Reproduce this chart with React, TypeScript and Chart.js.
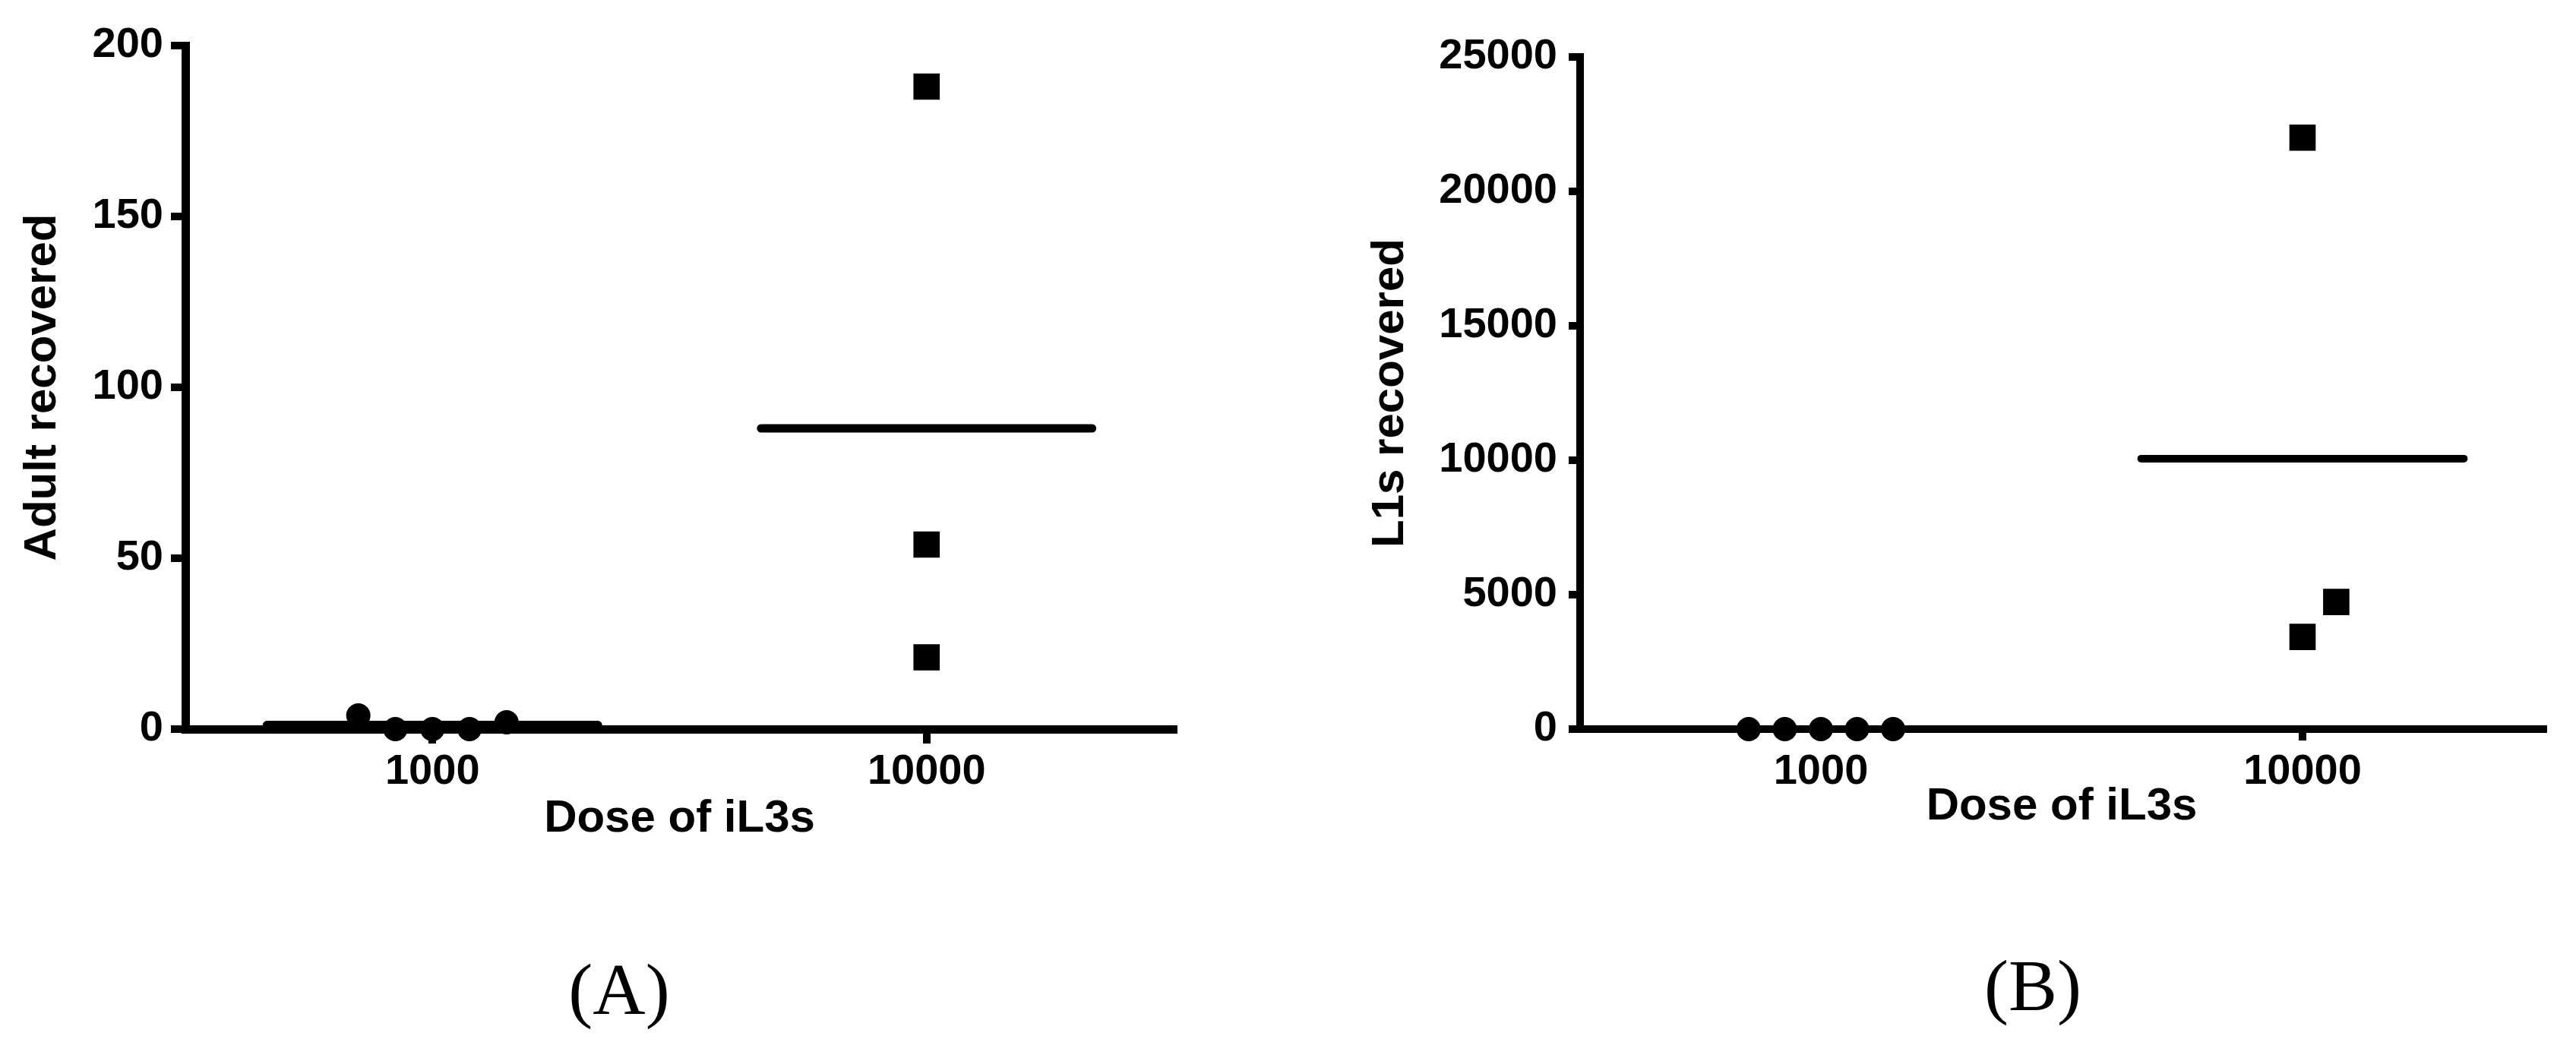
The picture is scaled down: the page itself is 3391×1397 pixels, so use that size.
import React, { useEffect, useRef } from 'react';
import { Chart, registerables } from 'chart.js';

Chart.register(...registerables);

// ---------- data ----------
const xCategories = ['1000', '10000'];
const xCategoryPos = [0.5, 1.5];

// Panel A: adults recovered
const adultLowDoseX = [0.35, 0.425, 0.5, 0.575, 0.65];
const adultLowDose = [4, 0, 0, 0, 2];
const adultHighDoseX = [1.5, 1.5, 1.5];
const adultHighDose = [188, 54, 21];
const adultMeans = [1.2, 88];
const adultYTicks = [0, 50, 100, 150, 200];

// Panel B: L1s recovered
const l1LowDoseX = [0.35, 0.425, 0.5, 0.575, 0.65];
const l1LowDose = [0, 0, 0, 0, 0];
const l1HighDoseX = [1.5, 1.5, 1.57];
const l1HighDose = [22000, 3430, 4730];
const l1Means = [0, 10060];
const l1YTicks = [0, 5000, 10000, 15000, 20000, 25000];

const MEAN_HALF_WIDTH = 0.335;

type PanelLayout = {
  width: number;
  height: number;
  yAxisWidth: number;
  xAxisHeight: number;
  padTop: number;
  padRight: number;
  padBottom: number;
  yTitlePad: number;
  xTitlePad: number;
  yTickPad: number;
  xTickPad: number;
  tickLen: number;
  axisWidth: number;
};

type PanelData = {
  lowX: number[];
  low: number[];
  highX: number[];
  high: number[];
  means: number[];
  yTicks: number[];
  yTitle: string;
  xTitle: string;
};

function makeConfig(d: PanelData, L: PanelLayout): any {
  const pts = (xs: number[], ys: number[]) => ys.map((y, i) => ({ x: xs[i], y }));
  const meanSets = d.means.map((m, i) => ({
    data: [
      { x: xCategoryPos[i] - MEAN_HALF_WIDTH, y: m },
      { x: xCategoryPos[i] + MEAN_HALF_WIDTH, y: m },
    ],
    showLine: true,
    borderColor: '#000',
    borderWidth: L.axisWidth,
    borderCapStyle: 'round',
    pointRadius: 0,
    clip: false,
  }));
  const yMax = d.yTicks[d.yTicks.length - 1];
  return {
    type: 'scatter',
    data: {
      datasets: [
        ...meanSets,
        {
          data: pts(d.lowX, d.low),
          pointStyle: 'circle',
          pointRadius: 16,
          pointBackgroundColor: '#000',
          pointBorderWidth: 0,
          borderWidth: 0,
          clip: false,
        },
        {
          data: pts(d.highX, d.high),
          pointStyle: 'rect',
          pointRadius: 24.5,
          pointBackgroundColor: '#000',
          pointBorderWidth: 0,
          borderWidth: 0,
          clip: false,
        },
      ],
    },
    options: {
      responsive: false,
      animation: false,
      devicePixelRatio: 1,
      layout: {
        padding: { left: 0, top: L.padTop, right: L.padRight, bottom: L.padBottom },
      },
      plugins: {
        legend: { display: false },
        tooltip: { enabled: false },
        title: { display: false },
      },
      scales: {
        x: {
          type: 'linear',
          min: 0,
          max: 2,
          afterBuildTicks: (axis: any) => {
            axis.ticks = xCategoryPos.map((v) => ({ value: v }));
          },
          afterFit: (axis: any) => {
            axis.height = L.xAxisHeight;
          },
          ticks: {
            autoSkip: false,
            maxRotation: 0,
            padding: L.xTickPad,
            color: '#000',
            font: { family: 'Liberation Sans, Arial, sans-serif', size: 56, weight: 'bold' },
            callback: (_v: any, i: number) => xCategories[i],
          },
          grid: {
            display: true,
            drawOnChartArea: false,
            drawTicks: true,
            tickLength: L.tickLen,
            lineWidth: 10,
            color: '#000',
          },
          border: { display: true, width: L.axisWidth, color: '#000' },
          title: {
            display: true,
            text: d.xTitle,
            color: '#000',
            font: { family: 'Liberation Sans, Arial, sans-serif', size: 60, weight: 'bold' },
            padding: { top: 0, bottom: L.xTitlePad },
          },
        },
        y: {
          type: 'linear',
          min: 0,
          max: yMax,
          afterBuildTicks: (axis: any) => {
            axis.ticks = d.yTicks.map((v) => ({ value: v }));
          },
          afterFit: (axis: any) => {
            axis.width = L.yAxisWidth;
          },
          ticks: {
            autoSkip: false,
            padding: L.yTickPad,
            color: '#000',
            font: { family: 'Liberation Sans, Arial, sans-serif', size: 56, weight: 'bold' },
            callback: (_v: any, i: number) => String(d.yTicks[i]),
          },
          grid: {
            display: true,
            drawOnChartArea: false,
            drawTicks: true,
            tickLength: L.tickLen,
            lineWidth: 10,
            color: '#000',
          },
          border: { display: true, width: L.axisWidth, color: '#000' },
          title: {
            display: true,
            text: d.yTitle,
            color: '#000',
            font: { family: 'Liberation Sans, Arial, sans-serif', size: 60, weight: 'bold' },
            padding: { top: L.yTitlePad, bottom: 0 },
          },
        },
      },
    },
  };
}

const layoutA: PanelLayout = {
  width: 1700,
  height: 1397,
  yAxisWidth: 244,
  xAxisHeight: 200,
  padTop: 60,
  padRight: 155,
  padBottom: 237,
  yTitlePad: 20,
  xTitlePad: 46,
  yTickPad: 10,
  xTickPad: 4,
  tickLen: 19,
  axisWidth: 11,
};

const layoutB: PanelLayout = {
  width: 1691,
  height: 1397,
  yAxisWidth: 380,
  xAxisHeight: 200,
  padTop: 75,
  padRight: 43,
  padBottom: 237,
  yTitlePad: 94,
  xTitlePad: 62,
  yTickPad: 15,
  xTickPad: 8,
  tickLen: 15,
  axisWidth: 10,
};

const dataA: PanelData = {
  lowX: adultLowDoseX,
  low: adultLowDose,
  highX: adultHighDoseX,
  high: adultHighDose,
  means: adultMeans,
  yTicks: adultYTicks,
  yTitle: 'Adult recovered',
  xTitle: 'Dose of iL3s',
};

const dataB: PanelData = {
  lowX: l1LowDoseX,
  low: l1LowDose,
  highX: l1HighDoseX,
  high: l1HighDose,
  means: l1Means,
  yTicks: l1YTicks,
  yTitle: 'L1s recovered',
  xTitle: 'Dose of iL3s',
};

function Panel({ data, layout, left }: { data: PanelData; layout: PanelLayout; left: number }) {
  const ref = useRef<HTMLCanvasElement | null>(null);
  useEffect(() => {
    if (!ref.current) return;
    const chart = new Chart(ref.current, makeConfig(data, layout));
    return () => chart.destroy();
  }, []);
  return (
    <canvas
      ref={ref}
      width={layout.width}
      height={layout.height}
      style={{ position: 'absolute', left, top: 0, width: layout.width, height: layout.height }}
    />
  );
}

const labelStyle: React.CSSProperties = {
  position: 'absolute',
  fontFamily: '"Liberation Serif", "Times New Roman", serif',
  fontSize: 96,
  lineHeight: 1,
  color: '#000',
  transform: 'translate(-50%, -50%)',
  whiteSpace: 'nowrap',
};

export default function App() {
  return (
    <div
      style={{
        position: 'absolute',
        left: 0,
        top: 0,
        width: 3391,
        height: 1397,
        background: '#fff',
        overflow: 'hidden',
      }}
    >
      <Panel data={dataA} layout={layoutA} left={0} />
      <Panel data={dataB} layout={layoutB} left={1700} />
      <div style={{ ...labelStyle, left: 815, top: 1303 }}>(A)</div>
      <div style={{ ...labelStyle, left: 2676, top: 1298 }}>(B)</div>
    </div>
  );
}
